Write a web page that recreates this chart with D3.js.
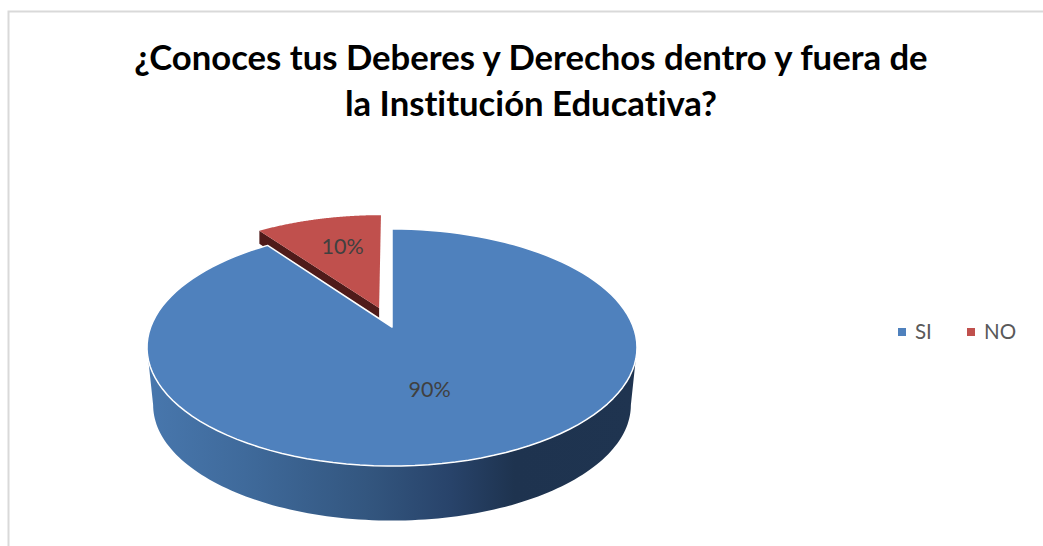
<!DOCTYPE html>
<html>
<head>
<meta charset="utf-8">
<script src="https://d3js.org/d3.v7.min.js"></script>
<style>
  html, body { margin: 0; padding: 0; background: #fff; }
  svg { display: block; }
  text { font-family: Lato, "Open Sans", sans-serif; font-variant-ligatures: none; }
</style>
</head>
<body>
<div id="chart"></div>
<script>
const categories = ["SI", "NO"];
const values = [90, 10];
const labels = ["90%", "10%"];
const titleLines = ["¿Conoces tus Deberes y Derechos dentro y fuera de", "la Institución Educativa?"];

const width = 1043, height = 546;
const cx = 392, cy = 327;
// perspective of the tilted disc: near side is bigger than the far side
const rx = 241.3, ry = 115, persp = -0.173;
const depth = 58, bottomScale = 0.975;
const explode = 0.178;

const svg = d3.select("#chart").append("svg")
  .attr("width", width)
  .attr("height", height);

const color = d3.scaleOrdinal().domain(categories).range(["#4f81bd", "#c0504d"]);

// frame
svg.append("path")
  .attr("d", "M8.5,546V11.5H1043")
  .attr("fill", "none")
  .attr("stroke", "#d9d9d9")
  .attr("stroke-width", 2);

svg.append("g").selectAll("text")
  .data(titleLines)
  .enter().append("text")
  .attr("x", 531)
  .attr("y", (d, i) => 70 + i * 46)
  .attr("text-anchor", "middle")
  .attr("font-size", 34.7)
  .attr("font-weight", 700)
  .attr("fill", "#000")
  .text(d => d);

// disc point -> screen point
function project(u, v, dy = 0, s = 1) {
  const w = 1 + persp * v;
  return [cx + s * rx * u / w, cy + dy + s * ry * v / w];
}
function onRim(a, r = 1, off = [0, 0]) {
  return [off[0] + r * Math.sin(a), off[1] - r * Math.cos(a)];
}

const slices = d3.pie().sort(null).startAngle(0).endAngle(2 * Math.PI)(values);
const line = d3.line();
const arcPts = (a0, a1, off) => d3.range(0, 121).map(i => onRim(a0 + (a1 - a0) * i / 120, 1, off));

const blue = slices[0], red = slices[1];
const redMid = (red.startAngle + red.endAngle) / 2;
const redOff = onRim(redMid, explode);

// side wall of the big slice
const wallA0 = 100 * Math.PI / 180, wallA1 = 260 * Math.PI / 180;
const wallTop = arcPts(wallA0, wallA1, [0, 0]).map(p => project(p[0], p[1]));
const wallBottom = arcPts(wallA0, wallA1, [0, 0]).map(p => project(p[0], p[1], depth, bottomScale));

const grad = svg.append("defs").append("linearGradient")
  .attr("id", "wall")
  .attr("gradientUnits", "userSpaceOnUse")
  .attr("x1", 147).attr("x2", 637).attr("y1", 0).attr("y2", 0);
[[0, "#4877ad"], [0.2, "#3f6a9b"], [0.45, "#33567f"], [0.62, "#28436a"], [0.75, "#1e334f"], [1, "#1f3450"]]
  .forEach(s => grad.append("stop").attr("offset", s[0]).attr("stop-color", s[1]));

svg.append("path")
  .attr("d", line(wallTop.concat(wallBottom.reverse())) + "Z")
  .attr("fill", "url(#wall)");

// small slice: inner wall first, the big slice covers what it hides
const apex = project(redOff[0], redOff[1]);
const redLeft = onRim(red.startAngle, 1, redOff);
const left = project(redLeft[0], redLeft[1]);
svg.append("path")
  .attr("d", line([left, apex, [apex[0], apex[1] + 14], [left[0], left[1] + 13]]) + "Z")
  .attr("fill", "#4f1b1a");

svg.append("path")
  .attr("d", line([apex].concat(arcPts(red.startAngle, red.endAngle, redOff).map(p => project(p[0], p[1])))) + "Z")
  .attr("fill", color("NO"));

svg.append("path")
  .attr("d", line([project(0, 0)].concat(arcPts(blue.startAngle, blue.endAngle, [0, 0]).map(p => project(p[0], p[1])))) + "Z")
  .attr("fill", color("SI"))
  .attr("stroke", "#fff")
  .attr("stroke-width", 1.5)
  .attr("stroke-linejoin", "round");

// data labels, nudged to where the original sits them
const labelPos = [onRim((blue.startAngle + blue.endAngle) / 2, 0.5), onRim(redMid, 0.65, redOff)];
const labelNudge = [[-3, 3], [5, 0]];
svg.append("g").selectAll("text")
  .data(labels)
  .enter().append("text")
  .attr("x", (d, i) => project(labelPos[i][0], labelPos[i][1])[0] + labelNudge[i][0])
  .attr("y", (d, i) => project(labelPos[i][0], labelPos[i][1])[1] + 7 + labelNudge[i][1])
  .attr("text-anchor", "middle")
  .attr("font-size", 21.5)
  .attr("fill", "#404040")
  .text(d => d);

// legend
const legendX = d3.scaleOrdinal().domain(categories).range([898, 967]);
const legend = svg.append("g").selectAll("g")
  .data(categories)
  .enter().append("g")
  .attr("transform", d => "translate(" + legendX(d) + ",328)");
legend.append("rect")
  .attr("width", 8)
  .attr("height", 8)
  .attr("fill", d => color(d));
legend.append("text")
  .attr("x", 17)
  .attr("y", 11)
  .attr("font-size", 20.5)
  .attr("fill", "#595959")
  .text(d => d);
</script>
</body>
</html>
